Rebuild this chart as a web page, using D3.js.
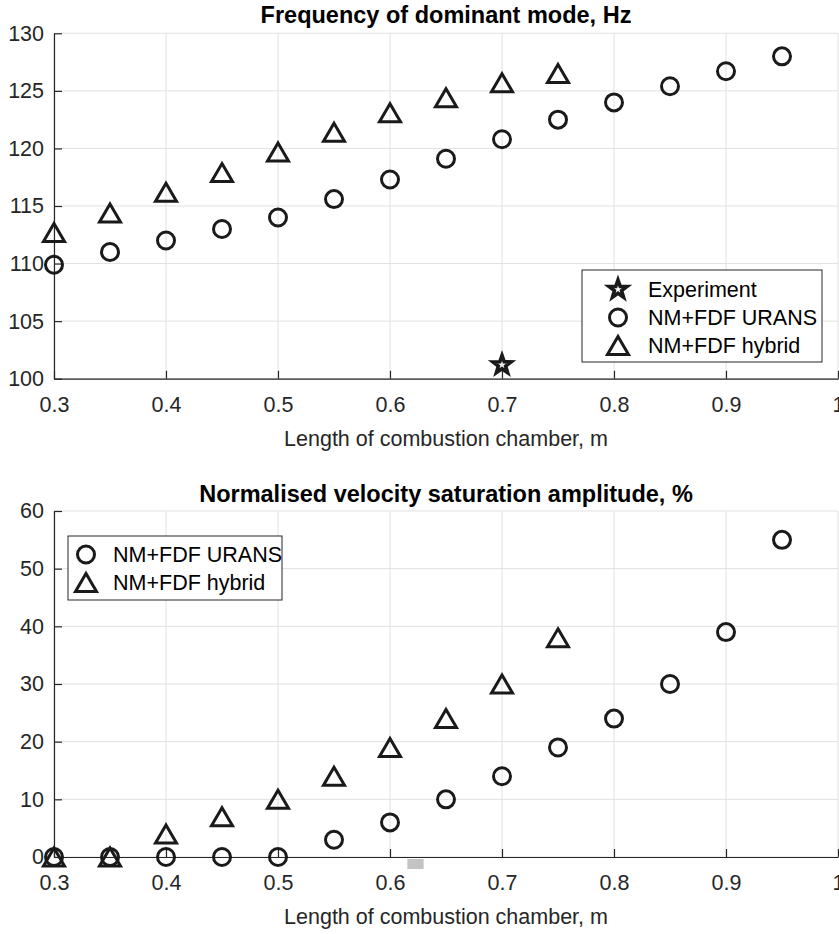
<!DOCTYPE html>
<html>
<head>
<meta charset="utf-8">
<script src="https://cdn.jsdelivr.net/npm/d3@7"></script>
<style>
  body { margin: 0; background: #fff; }
  svg text { font-family: "Liberation Sans", Arial, Helvetica, sans-serif; }
</style>
</head>
<body>
<div id="chart"></div>
<script>
// chamber lengths (m)
const lengthsUrans = [0.3, 0.35, 0.4, 0.45, 0.5, 0.55, 0.6, 0.65, 0.7, 0.75, 0.8, 0.85, 0.9, 0.95];
const lengthsHybrid = [0.3, 0.35, 0.4, 0.45, 0.5, 0.55, 0.6, 0.65, 0.7, 0.75];

// frequency of dominant mode, Hz
const freqUrans = [109.9, 111.0, 112.0, 113.0, 114.0, 115.6, 117.3, 119.1, 120.8, 122.5, 124.0, 125.4, 126.7, 128.0];
const freqHybrid = [112.7, 114.4, 116.2, 117.9, 119.7, 121.4, 123.1, 124.4, 125.7, 126.5];
const expLength = [0.7];
const expFreq = [101.2];

// normalised velocity saturation amplitude, %
const ampUrans = [0, 0, 0, 0, 0, 3, 6, 10, 14, 19, 24, 30, 39, 55];
const ampHybrid = [0, 0, 4, 7, 10, 14, 19, 24, 30, 38];

const xTicks = [0.3, 0.4, 0.5, 0.6, 0.7, 0.8, 0.9, 1];
const freqTicks = [100, 105, 110, 115, 120, 125, 130];
const ampTicks = [0, 10, 20, 30, 40, 50, 60];

const width = 839, height = 934;
const left = 54, right = 838;
const axisCol = "#262626", gridCol = "#e1e1e1";

const svg = d3.select("#chart").append("svg")
    .attr("width", width)
    .attr("height", height);

const x = d3.scaleLinear().domain([0.3, 1]).range([left, right]);

// marker shapes (MATLAB-like)
const circleSym = d3.symbol().type(d3.symbolCircle).size(Math.PI * 8.5 * 8.5);
function triPath(w, h) {
    // upward triangle centred on its bounding box
    return `M0,${-h / 2}L${w / 2},${h / 2}L${-w / 2},${h / 2}Z`;
}
function starPath(r) {
    let p = "";
    for (let i = 0; i < 10; i++) {
        const rr = i % 2 === 0 ? r : r * 0.4;
        const a = -Math.PI / 2 + i * Math.PI / 5;
        p += (i === 0 ? "M" : "L") + (rr * Math.cos(a)).toFixed(2) + "," + (rr * Math.sin(a)).toFixed(2);
    }
    return p + "Z";
}
const markers = {
    circle: circleSym(),
    triangle: triPath(21, 18),
    star: starPath(9.5)
};
const strokeW = {circle: 3, triangle: 3, star: 3.6};

function drawPanel(cfg) {
    const y = d3.scaleLinear().domain(cfg.domain).range([cfg.bottom, cfg.top]);
    const g = svg.append("g");

    // grid
    g.selectAll(".vgrid").data(xTicks).join("line")
        .attr("x1", d => x(d)).attr("x2", d => x(d))
        .attr("y1", cfg.top).attr("y2", cfg.bottom)
        .attr("stroke", gridCol).attr("stroke-width", 1);
    g.selectAll(".hgrid").data(cfg.yTicks).join("line")
        .attr("x1", left).attr("x2", right)
        .attr("y1", d => y(d)).attr("y2", d => y(d))
        .attr("stroke", gridCol).attr("stroke-width", 1);

    // axes (ticks inward)
    const xAxis = g.append("g")
        .attr("transform", `translate(0,${cfg.bottom})`)
        .call(d3.axisBottom(x).tickValues(xTicks).tickFormat(d3.format("~g"))
            .tickSizeInner(-8).tickSizeOuter(0).tickPadding(18));
    const yAxis = g.append("g")
        .attr("transform", `translate(${left},0)`)
        .call(d3.axisLeft(y).tickValues(cfg.yTicks)
            .tickSizeInner(-8).tickSizeOuter(0).tickPadding(10));
    [xAxis, yAxis].forEach(a => {
        a.select(".domain").attr("stroke", axisCol).attr("stroke-width", 1.2);
        a.selectAll(".tick line").attr("stroke", axisCol).attr("stroke-width", 1.2);
        a.selectAll(".tick text").attr("fill", axisCol).attr("font-size", 21.5)
            .attr("font-family", "Liberation Sans, Arial, sans-serif");
    });
    xAxis.selectAll(".tick text").attr("dy", "0.71em");

    // title and x label
    g.append("text")
        .attr("x", (left + right) / 2).attr("y", cfg.top - cfg.titleGap)
        .attr("text-anchor", "middle").attr("font-weight", "bold")
        .attr("font-size", 23.5).attr("fill", "#000")
        .text(cfg.title);
    g.append("text")
        .attr("x", (left + right) / 2).attr("y", cfg.bottom + 67)
        .attr("text-anchor", "middle")
        .attr("font-size", 21.5).attr("fill", axisCol)
        .text("Length of combustion chamber, m");

    // series
    cfg.series.forEach(s => {
        g.selectAll(null).data(s.xs.map((v, i) => [v, s.ys[i]])).join("path")
            .attr("d", markers[s.shape])
            .attr("transform", d => `translate(${x(d[0])},${y(d[1])})`)
            .attr("fill", "none").attr("stroke", "#1a1a1a")
            .attr("stroke-width", strokeW[s.shape]);
    });

    // legend
    const lg = g.append("g").attr("transform", `translate(${cfg.legend.x},${cfg.legend.y})`);
    lg.append("rect")
        .attr("width", cfg.legend.w).attr("height", cfg.legend.h)
        .attr("fill", "#fff").attr("stroke", "#262626").attr("stroke-width", 1);
    cfg.series.forEach((s, i) => {
        const cy = cfg.legend.first + i * 28;
        lg.append("path").attr("d", markers[s.shape])
            .attr("transform", `translate(${cfg.legend.mx},${cy})`)
            .attr("fill", "none").attr("stroke", "#1a1a1a")
            .attr("stroke-width", strokeW[s.shape]);
        lg.append("text").attr("x", cfg.legend.tx).attr("y", cy).attr("dy", "0.35em")
            .attr("font-size", 21.5).attr("fill", "#000").text(s.name);
    });
    return y;
}

drawPanel({
    top: 33.3, bottom: 378.7, domain: [100, 130], yTicks: freqTicks, titleGap: 10.6,
    title: "Frequency of dominant mode, Hz",
    series: [
        {name: "Experiment", shape: "star", xs: expLength, ys: expFreq},
        {name: "NM+FDF URANS", shape: "circle", xs: lengthsUrans, ys: freqUrans},
        {name: "NM+FDF hybrid", shape: "triangle", xs: lengthsHybrid, ys: freqHybrid}
    ],
    legend: {x: 582, y: 270, w: 240, h: 92, first: 19.5, mx: 36, tx: 66}
});

const yAmp = drawPanel({
    top: 511, bottom: 857, domain: [0, 60], yTicks: ampTicks, titleGap: 9.5,
    title: "Normalised velocity saturation amplitude, %",
    series: [
        {name: "NM+FDF URANS", shape: "circle", xs: lengthsUrans, ys: ampUrans},
        {name: "NM+FDF hybrid", shape: "triangle", xs: lengthsHybrid, ys: ampHybrid}
    ],
    legend: {x: 68, y: 536, w: 214, h: 64, first: 18.5, mx: 18, tx: 45}
});

// small grey mark just under the lower axis
svg.append("rect")
    .attr("x", x(0.6155)).attr("width", x(0.630) - x(0.6155))
    .attr("y", yAmp(0) + 2).attr("height", 10)
    .attr("fill", "#c3c3c3");
</script>
</body>
</html>
